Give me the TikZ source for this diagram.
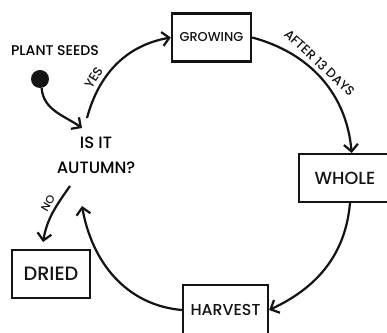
\documentclass[tikz,border=0pt]{standalone}
\usepackage{fontspec}
\setmainfont{Poppins}[UprightFont={Poppins Medium}]
\usepackage{tikz}
\usetikzlibrary{arrows.meta, positioning}
\definecolor{myink}{RGB}{20,20,20}
\tikzset{
  stage/.style={rectangle, draw=myink, fill=white, minimum height=1.43cm,
    inner sep=0pt, line width=2pt, text=myink},
  seeddot/.style={circle, fill=myink, minimum size=0.54cm, inner sep=0pt},
  flow/.style={-{Straight Barb[length=6pt,width=12pt]}, line width=1.9pt, color=myink},
  tag/.style={font=\fontsize{11}{12}\selectfont, text=myink, sloped}
}

\begin{document}
\begin{tikzpicture}[x=0.03cm, y=0.03cm, node distance=0.3cm]
  \useasboundingbox (0,0) rectangle (387,333);
  \node[seeddot] (seed) at (40,254) {};
  \node[above=of seed, xshift=0.45cm, font=\fontsize{12}{13}\selectfont] (plant) {PLANT SEEDS};
  \node[align=center, font=\fontsize{14}{21}\selectfont] (question) at (96,178) {IS IT\\AUTUMN?};
  \node[stage, minimum width=2.37cm, font=\fontsize{11}{13}\selectfont] (growing) at (211.5,295.5) {GROWING};
  \node[stage, minimum width=2.76cm, font=\fontsize{15}{17}\selectfont] (whole) at (345,155) {WHOLE};
  \node[stage, minimum width=2.55cm, minimum height=1.5cm, font=\fontsize{13.5}{15}\selectfont] (harvest) at (225.5,23) {HARVEST};
  \node[stage, minimum width=2.34cm, font=\fontsize{16.5}{18}\selectfont] (dried) at (51,59) {DRIED};

  \coordinate (q-top-in) at (82,205);
  \coordinate (q-top-out) at (87,215);
  \coordinate (q-bot-in) at (82,127);
  \coordinate (q-bot-out) at (70,147);
  \coordinate (dried-in) at (43,91);

  \draw[flow] (seed.-80) to[out=-85, in=145] (q-top-in);
  \draw[flow] (q-top-out) to[out=75, in=190] node[tag, pos=0.3, above] {YES} (growing.west);
  \draw[flow] (growing.east) to[out=-15, in=95] node[tag, pos=0.42, above] {AFTER 13 DAYS} ([xshift=0.2cm]whole.north);
  \draw[flow] ([xshift=0.15cm]whole.south) to[out=-95, in=25] (harvest.east);
  \draw[flow] (harvest.west) to[out=175, in=-80] (q-bot-in);
  \draw[flow] (q-bot-out) to[out=-125, in=80] node[tag, pos=0.4, above, font=\fontsize{9.5}{10}\selectfont] {NO} (dried-in);
\end{tikzpicture}
\end{document}
